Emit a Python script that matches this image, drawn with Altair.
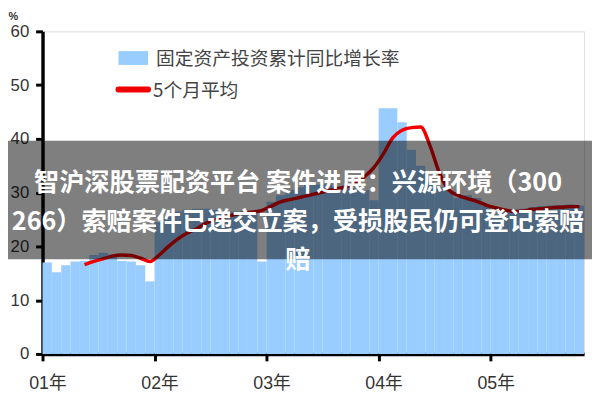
import altair as alt
import pandas as pd

# ---- data ----
year_labels = ["01年", "02年", "03年", "04年", "05年"]
fai_growth = [
    17.0, 15.2, 16.5, 17.2, 17.3, 18.4, 18.8, 18.5, 17.3, 17.2, 16.5, 13.5,   # 2001
    24.5, 25.5, 26.5, 26.8, 27.0, 27.0, 26.8, 26.6, 26.5, 26.5, 26.3, 17.2,   # 2002
    28.3, 29.5, 30.5, 31.0, 31.5, 31.5, 31.5, 31.2, 31.0, 30.8, 30.5, 28.6,   # 2003
    45.7, 45.7, 43.1, 38.0, 35.0, 32.0, 31.0, 30.5, 29.0, 29.5, 29.0, 27.5,   # 2004
    26.0, 26.5, 26.8, 27.0, 27.3, 27.5, 27.6, 27.7, 27.8, 27.6,               # 2005
]
ma5 = [None, None, None, None,
       16.6, 17.2, 17.7, 18.2, 18.4, 18.3, 17.8, 17.2,
       18.4, 20.0, 21.4, 22.5, 23.3, 24.3, 25.0, 25.5, 25.9, 26.2, 26.4, 26.7,
       27.5, 28.3, 28.7, 29.1, 29.5, 29.9, 30.3, 30.7, 31.1, 31.7, 33.0, 34.7,
       37.2, 40.2, 41.6, 42.1, 42.2, 38.7, 33.7, 30.5, 29.5, 28.9, 28.4, 27.7,
       27.2, 26.8, 26.5, 26.6, 26.9, 27.0, 27.2, 27.3, 27.4, 27.4]
legend_bar = "固定资产投资累计同比增长率"
legend_line = "5个月平均"
banner_lines = ["智沪深股票配资平台 案件进展：兴源环境（300",
                "266）索赔案件已递交立案，受损股民仍可登记索赔",
                "赔"]

n = len(fai_growth)
df = pd.DataFrame({
    "start": list(range(n)),
    "end": [i + 1 for i in range(n)],
    "mid": [i + 0.5 for i in range(n)],
    "value": fai_growth,
    "ma5": ma5,
})

label_array = "[" + ",".join("'" + s + "'" for s in year_labels) + "]"
FONT = "Liberation Sans, Noto Sans CJK SC"
RED = "#F00000"

xscale = alt.Scale(domain=[0, n], nice=False, zero=False)
yscale = alt.Scale(domain=[0, 60], nice=False)

axis_common = dict(
    domainColor="black", domainWidth=3.5, tickColor="black", tickWidth=3,
    tickSize=7, labelFontSize=18, labelColor="#333333", labelFont=FONT,
    grid=False, labelFlush=False,
)

bars = alt.Chart(df).mark_rect(color="#99CCFF").encode(
    x=alt.X("start:Q", scale=xscale,
            axis=alt.Axis(values=[12 * k for k in range(len(year_labels))],
                          labelExpr=label_array + "[round(datum.value/12)]",
                          labelPadding=14, labelOffset=5, title=None,
                          **axis_common)),
    x2="end:Q",
    y=alt.Y("value:Q", scale=yscale,
            axis=alt.Axis(values=list(range(0, 61, 10)), labelPadding=7,
                          title="%", titleAngle=0, titleX=-35, titleY=-21,
                          titleAlign="left", titleBaseline="top",
                          titleFontSize=11, titleFontWeight="bold",
                          titleFont=FONT, titleColor="#333333",
                          **{**axis_common, "labelFontSize": 17})),
    y2=alt.datum(0),
)

line = alt.Chart(df).mark_line(color=RED, strokeWidth=3.5,
                               interpolate="monotone").encode(
    x=alt.X("mid:Q", scale=xscale),
    y=alt.Y("ma5:Q", scale=yscale),
)

legend_src = alt.Chart(pd.DataFrame({"k": [0]}))
leg_rect = legend_src.mark_rect(color="#99CCFF").encode(
    x=alt.value(77), x2=alt.value(107), y=alt.value(20), y2=alt.value(34))
leg_text1 = legend_src.mark_text(text=legend_bar, align="left", baseline="middle",
                                 fontSize=19, color="#444444",
                                 font="Noto Sans CJK SC").encode(
    x=alt.value(115), y=alt.value(28))
leg_rule = legend_src.mark_rule(color=RED, strokeWidth=6, strokeCap="round").encode(
    x=alt.value(77), x2=alt.value(107), y=alt.value(59))
leg_text2 = legend_src.mark_text(text=legend_line, align="left", baseline="middle",
                                 fontSize=19, color="#444444",
                                 font="Noto Sans CJK SC").encode(
    x=alt.value(112), y=alt.value(61))

banner = legend_src.mark_rect(color="black", opacity=0.5).encode(
    x=alt.value(-43), x2=alt.value(557), y=alt.value(111), y2=alt.value(231))
banner_text = legend_src.mark_text(text=banner_lines, align="center", baseline="middle",
                                   fontSize=25.5, fontWeight="bold", color="white",
                                   lineHeight=39, font="Noto Sans CJK SC").encode(
    x=alt.value(259), y=alt.value(154))

chart = alt.layer(
    bars, line, leg_rect, leg_text1, leg_rule, leg_text2, banner, banner_text
).properties(
    width=549, height=327,
    autosize=alt.AutoSizeParams(type="none"),
    padding={"left": 35, "top": 21, "right": 8, "bottom": 44},
).configure_view(stroke=None).configure(background="white")

chart.save("out.html", embed_options={"renderer": "svg", "actions": False})
